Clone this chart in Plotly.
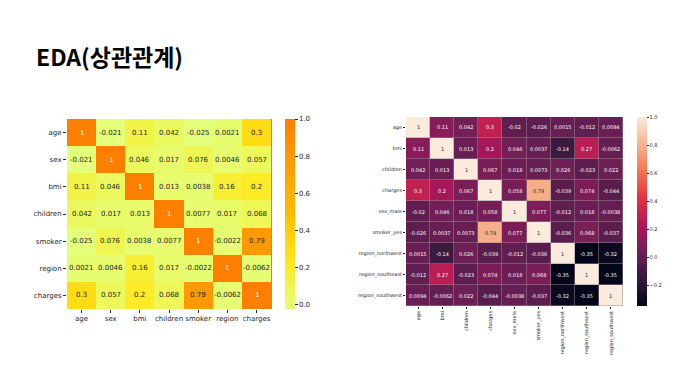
import plotly.graph_objects as go

# ---- data: left heatmap (label-encoded) ----
left_labels = ["age", "sex", "bmi", "children", "smoker", "region", "charges"]
left_age = [1, -0.021, 0.11, 0.042, -0.025, 0.0021, 0.3]
left_sex = [-0.021, 1, 0.046, 0.017, 0.076, 0.0046, 0.057]
left_bmi = [0.11, 0.046, 1, 0.013, 0.0038, 0.16, 0.2]
left_children = [0.042, 0.017, 0.013, 1, 0.0077, 0.017, 0.068]
left_smoker = [-0.025, 0.076, 0.0038, 0.0077, 1, -0.0022, 0.79]
left_region = [0.0021, 0.0046, 0.16, 0.017, -0.0022, 1, -0.0062]
left_charges = [0.3, 0.057, 0.2, 0.068, 0.79, -0.0062, 1]
left_matrix = [left_age, left_sex, left_bmi, left_children, left_smoker, left_region, left_charges]

# ---- data: right heatmap (one-hot encoded) ----
right_labels = ["age", "bmi", "children", "charges", "sex_male", "smoker_yes",
                "region_northwest", "region_southeast", "region_southwest"]
r_age = [1, 0.11, 0.042, 0.3, -0.02, -0.026, 0.0015, -0.012, 0.0094]
r_bmi = [0.11, 1, 0.013, 0.2, 0.046, 0.0037, -0.14, 0.27, -0.0062]
r_children = [0.042, 0.013, 1, 0.067, 0.018, 0.0073, 0.026, -0.023, 0.022]
r_charges = [0.3, 0.2, 0.067, 1, 0.058, 0.79, -0.039, 0.074, -0.044]
r_sex_male = [-0.02, 0.046, 0.018, 0.058, 1, 0.077, -0.012, 0.018, -0.0038]
r_smoker_yes = [-0.026, 0.0037, 0.0073, 0.79, 0.077, 1, -0.036, 0.068, -0.037]
r_nw = [0.0015, -0.14, 0.026, -0.039, -0.012, -0.036, 1, -0.35, -0.32]
r_se = [-0.012, 0.27, -0.023, 0.074, 0.018, 0.068, -0.35, 1, -0.35]
r_sw = [0.0094, -0.0062, 0.022, -0.044, -0.0038, -0.037, -0.32, -0.35, 1]
right_matrix = [r_age, r_bmi, r_children, r_charges, r_sex_male, r_smoker_yes, r_nw, r_se, r_sw]

left_ticks = [0.0, 0.2, 0.4, 0.6, 0.8, 1.0]
right_ticks = [-0.2, 0.0, 0.2, 0.4, 0.6, 0.8, 1.0]

wistia = [[0.0, "#e4ff7a"], [0.25, "#ffe81a"], [0.5, "#ffbd00"], [0.75, "#ffa000"], [1.0, "#fc7f00"]]
rocket = [[0.0, "#03051a"], [1/7, "#35193e"], [2/7, "#701f57"], [3/7, "#ad1759"],
          [4/7, "#e13342"], [5/7, "#f37651"], [6/7, "#f6b48f"], [1.0, "#faebdd"]]

W, H = 684, 383
FONT = "DejaVu Sans"
DARK = "#262626"


def hex_rgb(h):
    return [int(h[i:i + 2], 16) / 255 for i in (1, 3, 5)]


def scale_color(scale, t):
    t = min(max(t, 0), 1)
    for (a, ca), (b, cb) in zip(scale[:-1], scale[1:]):
        if a <= t <= b:
            f = 0 if b == a else (t - a) / (b - a)
            A, B = hex_rgb(ca), hex_rgb(cb)
            return [A[i] + (B[i] - A[i]) * f for i in range(3)]
    return hex_rgb(scale[-1][1])


def lum(rgb):
    lin = [c / 12.92 if c <= 0.03928 else ((c + 0.055) / 1.055) ** 2.4 for c in rgb]
    return 0.2126 * lin[0] + 0.7152 * lin[1] + 0.0722 * lin[2]


def cell_annotations(m, labels, scale, vmin, vmax, xref, yref, size):
    out = []
    for i, row in enumerate(m):
        for j, v in enumerate(row):
            c = scale_color(scale, (v - vmin) / (vmax - vmin))
            col = DARK if lum(c) > 0.408 else "white"
            out.append(dict(x=labels[j], y=labels[i], xref=xref, yref=yref,
                            text=format(v, ".2g").replace("-", "\u2212") if False else format(v, ".2g"),
                            showarrow=False, font=dict(size=size, family=FONT, color=col)))
    return out


fig = go.Figure()
fig.add_trace(go.Heatmap(
    z=left_matrix, x=left_labels, y=left_labels,
    colorscale=wistia, zmin=-0.025, zmax=1, xaxis="x", yaxis="y",
    hoverinfo="skip",
    colorbar=dict(x=277 / W, xanchor="left", xpad=0, ypad=0, thickness=10,
                  len=190 / H, lenmode="fraction", y=1 - 206 / H, yanchor="middle",
                  outlinewidth=0, tickvals=left_ticks, ticktext=[f"{t:.1f}" for t in left_ticks],
                  ticks="outside", ticklen=3, tickcolor=DARK,
                  tickfont=dict(size=7, family=FONT, color=DARK)),
))
fig.add_trace(go.Heatmap(
    z=right_matrix, x=right_labels, y=right_labels,
    colorscale=rocket, zmin=-0.35, zmax=1, xaxis="x2", yaxis="y2",
    xgap=0.5, ygap=0.5, hoverinfo="skip",
    colorbar=dict(x=629 / W, xanchor="left", xpad=0, ypad=0, thickness=10,
                  len=189 / H, lenmode="fraction", y=1 - 203.5 / H, yanchor="middle",
                  outlinewidth=0, tickvals=right_ticks,
                  ticktext=[("\u2212" if t < 0 else "") + f"{abs(t):.1f}" for t in right_ticks],
                  ticks="outside", ticklen=2, tickcolor=DARK,
                  tickfont=dict(size=5, family=FONT, color=DARK)),
))

annotations = (cell_annotations(left_matrix, left_labels, wistia, -0.025, 1, "x", "y", 7)
               + cell_annotations(right_matrix, right_labels, rocket, -0.35, 1, "x2", "y2", 5))

axis_common = dict(showgrid=False, zeroline=False, showline=False, ticks="outside",
                   tickcolor=DARK, linecolor=DARK)

fig.update_layout(
    width=W, height=H, margin=dict(l=0, r=0, t=0, b=0),
    paper_bgcolor="white", plot_bgcolor="#9a8f95",
    font=dict(family=FONT, color=DARK),
    annotations=annotations,
    title=dict(text="<b>EDA(상관관계)</b>", x=28 / W, xanchor="left", y=1 - 50 / H, yanchor="middle",
               font=dict(family="Noto Sans CJK KR", size=23, color="#000000")),
    xaxis=dict(domain=[59 / W, 264 / W], anchor="y", ticklen=3, tickangle=0,
               tickfont=dict(size=7, family=FONT, color=DARK), **axis_common),
    yaxis=dict(domain=[1 - 301 / H, 1 - 111 / H], anchor="x", autorange="reversed", ticklen=3,
               tickfont=dict(size=7, family=FONT, color=DARK), **axis_common),
    xaxis2=dict(domain=[398 / W, 615 / W], anchor="y2", ticklen=2, tickangle=-90,
                tickfont=dict(size=5, family=FONT, color=DARK), **axis_common),
    yaxis2=dict(domain=[1 - 298 / H, 1 - 109 / H], anchor="x2", autorange="reversed", ticklen=2,
                tickfont=dict(size=5, family=FONT, color=DARK), **axis_common),
)

fig.write_html("out.html")
